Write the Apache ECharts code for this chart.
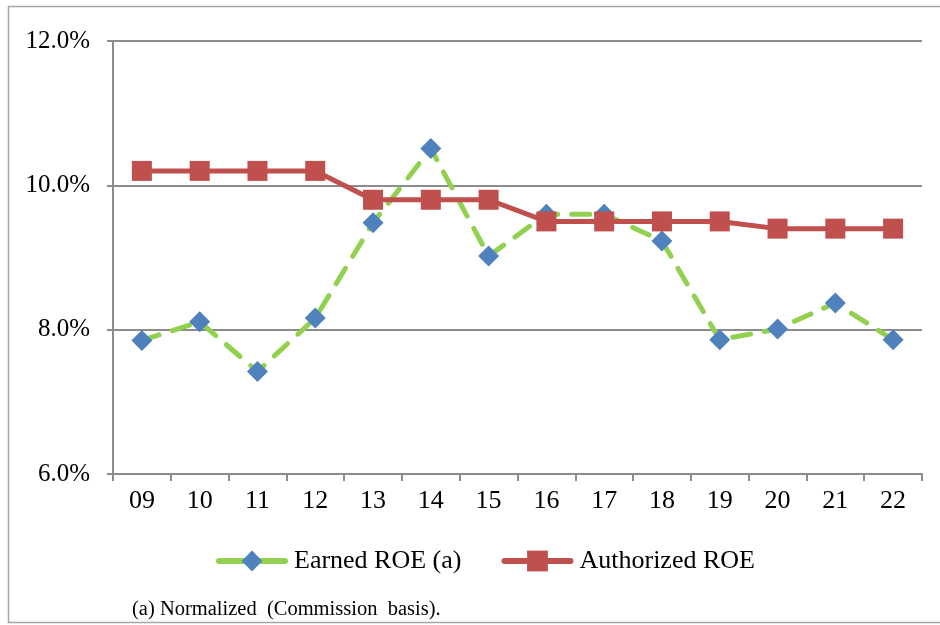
<!DOCTYPE html>
<html>
<head>
<meta charset="utf-8">
<script src="https://cdn.jsdelivr.net/npm/echarts@6/dist/echarts.min.js"></script>
<style>
html,body{margin:0;padding:0;background:#fff;}
#chart{width:940px;height:625px;}
</style>
</head>
<body>
<div id="chart"></div>
<script>
const categories = ['09','10','11','12','13','14','15','16','17','18','19','20','21','22'];
const earnedROE = [7.85, 8.11, 7.42, 8.16, 9.48, 10.51, 9.02, 9.6, 9.6, 9.23, 7.86, 8.01, 8.37, 7.86];
const authorizedROE = [10.2, 10.2, 10.2, 10.2, 9.8, 9.8, 9.8, 9.5, 9.5, 9.5, 9.5, 9.4, 9.4, 9.4];
const yTicks = {min: 6, max: 12, interval: 2};
const footnote = '(a) Normalized  (Commission  basis).';

const FONT = 'Liberation Serif';
const chart = echarts.init(document.getElementById('chart'), null, {renderer: 'canvas'});
chart.setOption({
  animation: false,
  backgroundColor: '#ffffff',
  grid: {left: 113, right: 18, top: 41, bottom: 151, containLabel: false},
  xAxis: {
    type: 'category',
    data: categories,
    boundaryGap: true,
    axisLine: {show: true, lineStyle: {color: '#8c8c8c', width: 2}},
    axisTick: {show: true, interval: 0, length: 7, lineStyle: {color: '#8c8c8c', width: 2}},
    axisLabel: {interval: 0, margin: 14, color: '#000', fontFamily: FONT, fontSize: 26}
  },
  yAxis: {
    type: 'value',
    min: yTicks.min, max: yTicks.max, interval: yTicks.interval,
    axisLine: {show: true, lineStyle: {color: '#8c8c8c', width: 2}},
    axisTick: {show: true, length: 6, lineStyle: {color: '#8c8c8c', width: 2}},
    axisLabel: {margin: 23, color: '#000', fontFamily: FONT, fontSize: 25,
      formatter: v => v.toFixed(1) + '%'},
    splitLine: {show: true, lineStyle: {color: '#8c8c8c', width: 2}}
  },
  legend: {
    left: 211, top: 542,
    itemWidth: 66, itemHeight: 26, itemGap: 40,
    textStyle: {color: '#000', fontFamily: FONT, fontSize: 26, lineHeight: 28, padding: [0, 0, 0, 4]},
    lineStyle: {width: 6, type: 'solid', cap: 'round'},
    data: [
      {name: 'Earned ROE (a)', lineStyle: {width: 6, type: 'solid', cap: 'round', color: '#92D050'}},
      {name: 'Authorized ROE', lineStyle: {width: 6, type: 'solid', cap: 'round', color: '#C0504D'}}
    ]
  },
  series: [
    {
      name: 'Earned ROE (a)', type: 'line', data: earnedROE, z: 2,
      symbol: 'diamond', symbolSize: 21,
      itemStyle: {color: '#4F81BD'},
      lineStyle: {color: '#92D050', width: 5, type: [18, 14], cap: 'round'}
    },
    {
      name: 'Authorized ROE', type: 'line', data: authorizedROE, z: 3,
      symbol: 'rect', symbolSize: 20,
      itemStyle: {color: '#C0504D'},
      lineStyle: {color: '#C0504D', width: 5}
    }
  ],
  graphic: [
    {type: 'rect', silent: true, z: -1,
      shape: {x: 8.5, y: 6.5, width: 940, height: 616},
      style: {fill: null, stroke: '#a6a6a6', lineWidth: 1.5}},
    {type: 'text', left: 132, top: 599,
      style: {text: footnote, fontFamily: FONT, fontSize: 20.5, fill: '#000'}}
  ]
});
</script>
</body>
</html>
